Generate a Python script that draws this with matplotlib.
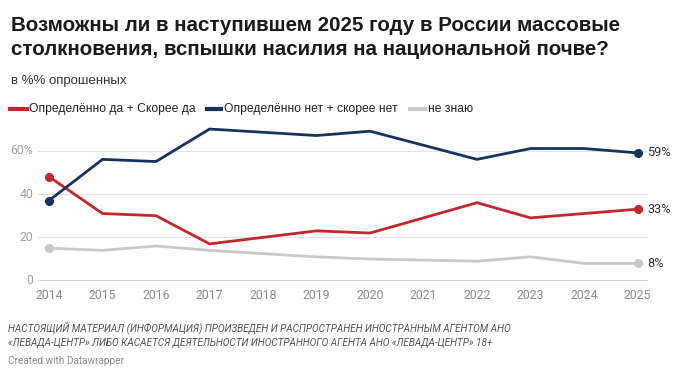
import matplotlib
matplotlib.use("Agg")
import matplotlib.pyplot as plt
from matplotlib.lines import Line2D

years = [2014, 2015, 2016, 2017, 2019, 2020, 2022, 2023, 2024, 2025]
yes_vals = [48, 31, 30, 17, 23, 22, 36, 29, 31, 33]
no_vals = [37, 56, 55, 70, 67, 69, 56, 61, 61, 59]
dk_vals = [15, 14, 16, 14, 11, 10, 9, 11, 8, 8]
tick_years = list(range(2014, 2026))
y_ticks = [0, 20, 40, 60]
y_labels = ["0", "20", "40", "60%"]

series_names = ["Определённо да + Скорее да", "Определённо нет + скорее нет", "не знаю"]
RED = "#c1272d"
BLUE = "#15335e"
GRAY = "#c9c9c9"

title_lines = ["Возможны ли в наступившем 2025 году в России массовые",
               "столкновения, вспышки насилия на национальной почве?"]
subtitle = "в %% опрошенных"
footer_lines = ["НАСТОЯЩИЙ МАТЕРИАЛ (ИНФОРМАЦИЯ) ПРОИЗВЕДЕН И РАСПРОСТРАНЕН ИНОСТРАННЫМ АГЕНТОМ АНО",
                "«ЛЕВАДА-ЦЕНТР» ЛИБО КАСАЕТСЯ ДЕЯТЕЛЬНОСТИ ИНОСТРАННОГО АГЕНТА АНО «ЛЕВАДА-ЦЕНТР».18+"]
credit = "Created with Datawrapper"

W, H = 680, 377
fig = plt.figure(figsize=(W / 100, H / 100), dpi=100)
fig.patch.set_facecolor("white")

def fx(px):
    return px / W

def fy(py):
    return 1 - py / H

ax_left, ax_right = 38, 648
ax_top, ax_bottom = 124.7, 280.7
ax = fig.add_axes([fx(ax_left), fy(ax_bottom), fx(ax_right - ax_left), (ax_bottom - ax_top) / H])
ax.set_xlim(2013.794, 2025.196)
ax.set_ylim(0, 72)
for s in ax.spines.values():
    s.set_visible(False)
ax.set_facecolor("white")

for t in y_ticks[1:]:
    ax.axhline(t, color="#e3e3e3", lw=0.8, zorder=1)
ax.axhline(0, color="#333333", lw=1.0, zorder=2)

sans = ["Liberation Sans", "DejaVu Sans"]
rob = ["Roboto", "DejaVu Sans"]

for vals, col in [(dk_vals, GRAY), (yes_vals, RED), (no_vals, BLUE)]:
    ax.plot(years, vals, color=col, lw=2.0, solid_capstyle="round", solid_joinstyle="round", zorder=3)
    ax.plot([years[0], years[-1]], [vals[0], vals[-1]], "o", color=col, ms=5.5, zorder=4)
    ax.annotate(f"{vals[-1]}%", xy=(years[-1], vals[-1]), xytext=(7, 0), textcoords="offset points",
                va="center", ha="left", fontsize=9.2, color="#333333", family=rob)

ax.set_xticks(tick_years)
ax.set_xticklabels([str(y) for y in tick_years], fontsize=8.8, color="#8a8a8a", family=rob)
ax.tick_params(axis="x", length=0, pad=6)
ax.set_yticks(y_ticks)
ax.set_yticklabels([])
ax.tick_params(axis="y", length=0)
for t, lab in zip(y_ticks, y_labels):
    ax.text(-0.008, t, lab, transform=ax.get_yaxis_transform(), ha="right", va="center",
            fontsize=8.8, color="#a0a0a0", family=rob)

for line, base in zip(title_lines, [30.7, 55.0]):
    fig.text(fx(11), fy(base), line, ha="left", va="baseline", fontsize=14.8, weight="bold",
             color="#1a1a1a", family=sans)
fig.text(fx(11), fy(84.3), subtitle, ha="left", va="baseline", fontsize=9.5, color="#333333", family=sans)

leg_y = 109
swatches = [(10, 27, 29, RED), (207, 221, 224, BLUE), (410, 425, 428, GRAY)]
for (x0, x1, xt, col), name in zip(swatches, series_names):
    fig.add_artist(Line2D([fx(x0), fx(x1)], [fy(leg_y), fy(leg_y)], color=col, lw=3.0,
                          transform=fig.transFigure))
    fig.text(fx(xt), fy(leg_y), name, ha="left", va="center", fontsize=8.7, color="#222222", family=sans)

for line, yc in zip(footer_lines, [327.5, 343.5]):
    fig.text(fx(8), fy(yc), line, ha="left", va="center", fontsize=7.2, style="italic",
             color="#555555", family=["Roboto", "DejaVu Sans"])
fig.text(fx(8), fy(361.5), credit, ha="left", va="center", fontsize=7.2, color="#8a8a8a", family=rob)

fig.savefig("out.png", dpi=100, facecolor="white")
